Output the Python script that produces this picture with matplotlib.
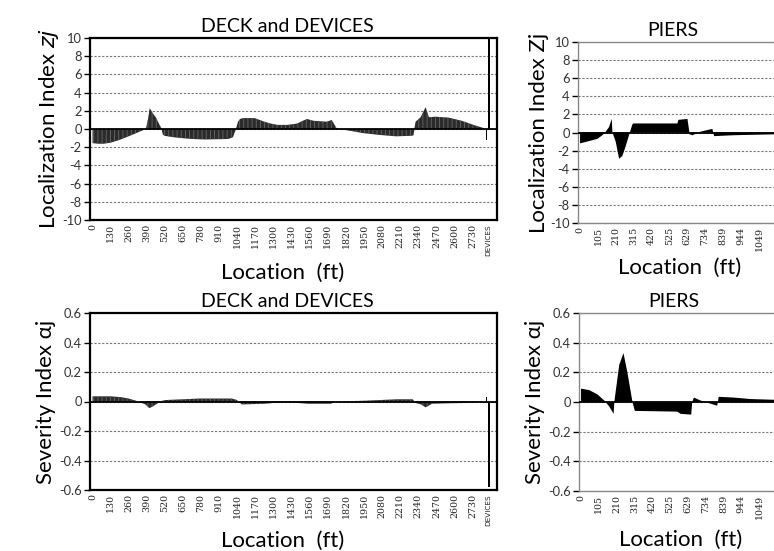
import numpy as np
import matplotlib
matplotlib.use('Agg')
import matplotlib.pyplot as plt

plt.rcParams['font.family'] = ['Lato', 'DejaVu Sans']
plt.rcParams['hatch.linewidth'] = 0.6

# deck and devices: localization index
deck_loc = [0, 40, 80, 130, 194, 260, 330, 383, 400, 411, 430, 454, 480, 494, 505, 518,
            580, 643, 720, 808, 900, 974, 1009, 1030, 1045, 1060, 1080, 1163, 1200, 1234,
            1280, 1328, 1400, 1470, 1517, 1541, 1588, 1683, 1718, 1754, 1850, 1943, 2060,
            2179, 2290, 2305, 2320, 2357, 2392, 2416, 2463, 2557, 2652, 2746, 2810]
deck_zj = [-1.55, -1.62, -1.62, -1.5, -1.2, -0.8, -0.35, 0.0, 1.2, 2.3, 1.8, 1.3, 0.5, 0.1,
           -0.6, -0.75, -0.9, -1.0, -1.1, -1.15, -1.12, -1.1, -0.9, 0.0, 0.8, 1.1, 1.2, 1.2,
           1.0, 0.8, 0.6, 0.45, 0.45, 0.6, 0.95, 1.1, 0.9, 0.8, 1.0, 0.05, -0.2, -0.45,
           -0.65, -0.8, -0.75, -0.7, 0.8, 1.3, 2.4, 1.3, 1.35, 1.25, 0.9, 0.4, 0.1]

# deck and devices: severity index
sev_loc = [0, 130, 200, 260, 330, 380, 408, 430, 455, 500, 527, 650, 764, 900, 1001, 1037,
           1060, 1072, 1238, 1357, 1450, 1547, 1713, 1737, 1950, 2187, 2300, 2320, 2360,
           2392, 2439, 2550, 2675, 2793]
deck_sev = [0.035, 0.035, 0.03, 0.02, 0.0, -0.02, -0.045, -0.035, -0.02, 0.005, 0.01,
            0.015, 0.02, 0.02, 0.02, 0.01, -0.01, -0.02, -0.015, -0.005, -0.008, -0.015,
            -0.015, 0.0, 0.005, 0.015, 0.015, -0.01, -0.02, -0.04, -0.015, -0.012, -0.01, 0.0]

# devices bars
dev_pos = [2830, 2846]
dev_zj = [-1.2, 10.5]
dev_sev = [0.03, -0.58]

# piers
pier_loc = [0, 63, 102, 131, 151, 170, 186, 190, 209, 229, 248, 268, 287, 307, 313, 571,
            577, 630, 643, 659, 708, 776, 786, 903, 1142, 1300]
pier_zj = [-1.2, -0.9, -0.7, -0.3, 0.1, 0.6, 1.5, 0.0, -1.0, -2.9, -2.6, -1.5, -0.3, 0.9,
           1.0, 1.0, 1.4, 1.5, -0.2, -0.3, 0.1, 0.4, -0.4, -0.3, -0.2, -0.2]
psev_loc = [0, 49, 98, 137, 166, 192, 196, 225, 250, 273, 303, 317, 567, 587, 649, 655,
            665, 704, 802, 811, 899, 997, 1138, 1300]
pier_sev = [0.09, 0.08, 0.05, 0.01, -0.03, -0.08, 0.0, 0.25, 0.33, 0.2, 0.0, -0.06, -0.065,
            -0.08, -0.085, 0.0, 0.03, 0.01, -0.025, 0.035, 0.03, 0.02, 0.015, 0.015]

deck_ticks = list(range(0, 2731, 130))
deck_labels = [str(t) for t in deck_ticks] + ['DEVICES']
pier_ticks = [0, 105, 210, 315, 420, 525, 629, 734, 839, 944, 1049]
zj_ticks = list(range(-10, 11, 2))
sev_ticks = [-0.6, -0.4, -0.2, 0, 0.2, 0.4, 0.6]

W, H = 774, 551
fig = plt.figure(figsize=(W / 100, H / 100), dpi=100)


def box(l, t, r, b):
    return [l / W, 1 - b / H, (r - l) / W, (b - t) / H]


def style(ax, yticks, deck, xlab_pos, title, title_x):
    ax.set_ylim(yticks[0], yticks[-1])
    ax.set_yticks(yticks)
    ax.set_yticklabels([('%g' % v) for v in yticks], fontsize=9.3, color='#333')
    ax.yaxis.grid(True, linestyle=(0, (2, 1.5)), color='#777', lw=0.8)
    ax.set_axisbelow(True)
    ax.axhline(0, color='black', lw=1.3, zorder=3)
    ax.tick_params(axis='y', length=4, width=1, pad=2)
    ax.tick_params(axis='x', length=0, pad=3)
    for lab in ax.get_xticklabels():
        lab.set_rotation(90)
        lab.set_color('#222')
        if lab.get_text() == 'DEVICES':
            lab.set_family('DejaVu Sans')
            lab.set_fontsize(5.2)
        else:
            lab.set_family('DejaVu Serif')
            lab.set_fontsize(6.8)
    sc = 'black' if deck else '#888'
    for s in ax.spines.values():
        s.set_color(sc)
        s.set_linewidth(1.6 if deck else 1.0)
    ax.set_xlabel('Location  (ft)', fontsize=16, va='center')
    ax.xaxis.set_label_coords(*xlab_pos)
    ax.set_title(title, fontsize=14, pad=4, x=title_x)


# top deck
ax1 = fig.add_axes(box(90, 38, 497, 220))
ax1.fill_between(deck_loc, 0, deck_zj, facecolor='#2b2b2b', edgecolor='#666',
                 hatch='||||', lw=0, zorder=2)
ax1.bar(dev_pos, dev_zj, width=[5, 14], color='black', zorder=4)
ax1.set_xlim(-18, 2905)
ax1.set_xticks(deck_ticks + [2840])
ax1.set_xticklabels(deck_labels)
style(ax1, zj_ticks, True, (0.474, -0.29), 'DECK and DEVICES', 0.484)
ax1.set_ylabel(r'Localization Index $\mathit{zj}$', fontsize=16, labelpad=1)

# top piers
ax2 = fig.add_axes(box(578, 42, 800, 223))
ax2.fill_between(pier_loc, 0, pier_zj, facecolor='black', lw=0, zorder=2)
ax2.set_xlim(-12, 1290)
ax2.set_xticks(pier_ticks)
ax2.set_xticklabels([str(t) for t in pier_ticks])
style(ax2, zj_ticks, False, (0.46, -0.25), 'PIERS', 0.428)
ax2.set_ylabel('Localization Index Zj', fontsize=16, labelpad=1)

# bottom deck
ax3 = fig.add_axes(box(90, 313, 497, 490))
ax3.fill_between(sev_loc, 0, deck_sev, facecolor='#2b2b2b', edgecolor='#666',
                 hatch='||||', lw=0, zorder=2)
ax3.bar(dev_pos, dev_sev, width=[5, 14], color='black', zorder=4)
ax3.set_xlim(-18, 2905)
ax3.set_xticks(deck_ticks + [2840])
ax3.set_xticklabels(deck_labels)
style(ax3, sev_ticks, True, (0.474, -0.285), 'DECK and DEVICES', 0.484)
ax3.set_ylabel('Severity Index αj', fontsize=16, labelpad=2)

# bottom piers
ax4 = fig.add_axes(box(579, 313, 800, 491))
ax4.fill_between(psev_loc, 0, pier_sev, facecolor='black', lw=0, zorder=2)
ax4.set_xlim(-12, 1290)
ax4.set_xticks(pier_ticks)
ax4.set_xticklabels([str(t) for t in pier_ticks])
style(ax4, sev_ticks, False, (0.46, -0.275), 'PIERS', 0.428)
ax4.set_ylabel('Severity Index αj', fontsize=16, labelpad=2)

fig.savefig('out.png', dpi=100)
